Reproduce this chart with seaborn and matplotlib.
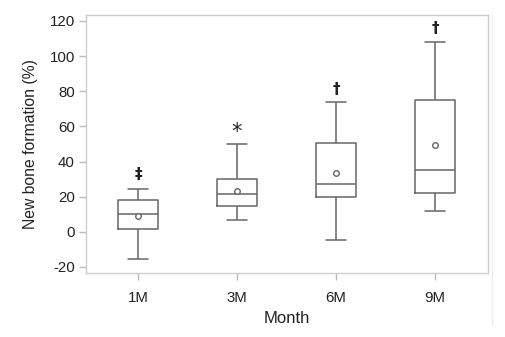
import numpy as np
import pandas as pd
import matplotlib
matplotlib.use("Agg")
import matplotlib.pyplot as plt
from matplotlib.lines import Line2D
import seaborn as sns

# Data (five-number summaries)
months = ["1M", "3M", "6M", "9M"]
mins = [-15.3, 6.9, -4.6, 11.9]
q1s = [1.6, 14.9, 20.0, 21.9]
medians = [10.2, 21.5, 27.4, 35.4]
q3s = [18.3, 30.1, 50.7, 75.0]
maxs = [24.4, 49.8, 74.1, 108.2]
means = [8.8, 23.1, 33.3, 49.3]
sig_labels = ["‡", "*", "†", "†"]
sig_y = [32.4, 57.0, 81.0, 115.8]

rows = []
for m, a, b, c, d, e in zip(months, mins, q1s, medians, q3s, maxs):
    for v in (a, b, c, d, e):
        rows.append({"Month": m, "value": v})
df = pd.DataFrame(rows)
mean_df = pd.DataFrame({"Month": months, "mean": means})

sns.set_style("white")
plt.rcParams["font.family"] = ["Liberation Sans", "DejaVu Sans"]
plt.rcParams["axes.unicode_minus"] = False

fig = plt.figure(figsize=(5.06, 3.37), dpi=100)
ax = fig.add_axes([0.170, 0.190, 0.7944, 0.7655])

line_c = "#666666"
sns.boxplot(data=df, x="Month", y="value", order=months, whis=(0, 100),
            width=0.4, fill=False, color=line_c, linecolor=line_c,
            linewidth=1.1, ax=ax)
# cap widths to 0.2
extremes = mins + maxs
for ln in ax.lines:
    xd = np.asarray(ln.get_xdata(), dtype=float)
    yd = np.asarray(ln.get_ydata(), dtype=float)
    if len(xd) == 2 and yd[0] == yd[1] and abs(xd[1] - xd[0]) > 0.05:
        if any(abs(yd[0] - v) < 1e-9 for v in extremes):
            cx = (xd[0] + xd[1]) / 2
            ln.set_xdata([cx - 0.1, cx + 0.1])

sns.scatterplot(data=mean_df, x="Month", y="mean", marker="o", s=16,
                facecolor="white", edgecolor=line_c, linewidth=1.0,
                zorder=5, ax=ax)

for i, (lab, yv) in enumerate(zip(sig_labels, sig_y)):
    fs = 15 if lab == "*" else 11
    ax.text(i, yv, lab, ha="center", va="center", fontsize=fs,
            color="#222222", family=["DejaVu Sans"], fontweight="bold" if lab != "*" else "normal")

ax.set_ylim(-23.4, 123.4)
ax.set_xlim(-0.525, 3.535)
ax.set_yticks([-20, 0, 20, 40, 60, 80, 100, 120])
ax.set_xlabel("Month", fontsize=12, color="#222222", labelpad=4)
ax.set_ylabel("New bone formation (%)", fontsize=11.3, color="#222222", labelpad=8)
for s in ax.spines.values():
    s.set_visible(True)
    s.set_color("#cccccc")
    s.set_linewidth(1.0)
ax.tick_params(axis="both", colors="#bbbbbb", labelcolor="#222222",
               length=5, width=1.0, labelsize=10.8, direction="out",
               left=True, bottom=True)
ax.tick_params(axis="x", pad=8)
ax.tick_params(axis="y", pad=3)

fig.add_artist(Line2D([491.5 / 506, 491.5 / 506], [1 - 15 / 337, 1 - 325 / 337],
                      color="#eeeeee", linewidth=1.0))

fig.savefig("out.png", dpi=100)
